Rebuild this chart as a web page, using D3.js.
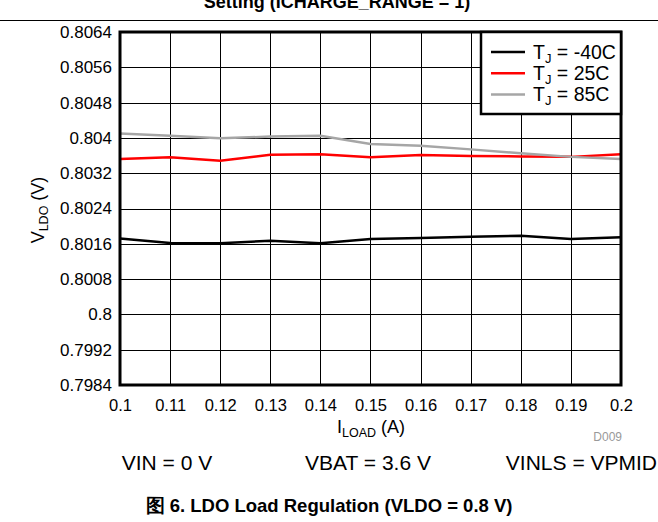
<!DOCTYPE html>
<html><head><meta charset="utf-8">
<script src="https://cdn.jsdelivr.net/npm/d3@7"></script>
<style>
body{margin:0;background:#fff;}
svg{display:block;font-family:"Liberation Sans",Arial,sans-serif;}
</style></head>
<body><svg id="c" width="658" height="522"></svg>
<script>
const xTicks = [0.1,0.11,0.12,0.13,0.14,0.15,0.16,0.17,0.18,0.19,0.2];
const yTicks = [0.7984,0.7992,0.8,0.8008,0.8016,0.8024,0.8032,0.804,0.8048,0.8056,0.8064];
const iload = [0.1,0.11,0.12,0.13,0.14,0.15,0.16,0.17,0.18,0.19,0.2];
const vM40 = [0.80172,0.80162,0.80161,0.80167,0.80161,0.80171,0.80173,0.80176,0.80178,0.80171,0.80175];
const v25  = [0.80352,0.80356,0.80348,0.80362,0.80363,0.80356,0.80361,0.80359,0.80358,0.80357,0.80363];
const v85  = [0.80410,0.80405,0.80399,0.80403,0.80405,0.80386,0.80382,0.80374,0.80365,0.80357,0.80352];
const seriesNames = ["-40C","25C","85C"];
const seriesColors = ["#000000","#ff0000","#a6a6a6"];
const series = [vM40, v25, v85];

const svg = d3.select("#c");
const L=120, R=621, T=32, B=385;
const x = d3.scaleLinear().domain([0.1,0.2]).range([L,R]);
const y = d3.scaleLinear().domain([0.7984,0.8064]).range([B,T]);

// title (clipped at top)
svg.append("text").attr("x",337).attr("y",8).attr("text-anchor","middle")
  .attr("font-weight","bold").attr("font-size",18).text("Setting (ICHARGE_RANGE = 1)");
svg.append("line").attr("x1",0).attr("x2",658).attr("y1",20.5).attr("y2",20.5)
  .attr("stroke","#000").attr("stroke-width",1.2);

// grid
svg.append("g").selectAll("line").data(xTicks).join("line")
  .attr("x1",d=>Math.round(x(d))+0.5).attr("x2",d=>Math.round(x(d))+0.5)
  .attr("y1",T).attr("y2",B).attr("stroke","#000").attr("stroke-width",1);
svg.append("g").selectAll("line").data(yTicks).join("line")
  .attr("y1",d=>Math.round(y(d))+0.5).attr("y2",d=>Math.round(y(d))+0.5)
  .attr("x1",L).attr("x2",R).attr("stroke","#000").attr("stroke-width",1);

// axes labels via d3 axes
const xAxis = d3.axisBottom(x).tickValues(xTicks).tickSize(0).tickPadding(14).tickFormat(d=>d3.format("")(+d.toFixed(2)));
const gx = svg.append("g").attr("transform",`translate(0,${B})`).call(xAxis);
gx.select(".domain").remove();
gx.selectAll("text").attr("font-size",16.5).attr("font-family","Liberation Sans, Arial, sans-serif").attr("fill","#000");

const yAxis = d3.axisLeft(y).tickValues(yTicks).tickSize(0).tickPadding(8).tickFormat(d=>d3.format("")(+d.toFixed(4)));
const gy = svg.append("g").attr("transform",`translate(${L},0)`).call(yAxis);
gy.select(".domain").remove();
gy.selectAll("text").attr("font-size",17).attr("font-family","Liberation Sans, Arial, sans-serif").attr("fill","#000");

// lines
const line = d3.line().x((d,i)=>x(iload[i])).y(d=>y(d));
series.forEach((s,k)=>{
  svg.append("path").datum(s).attr("d",line).attr("fill","none")
    .attr("stroke",seriesColors[k]).attr("stroke-width",2.5);
});

// frame
svg.append("rect").attr("x",L).attr("y",T).attr("width",R-L).attr("height",B-T)
  .attr("fill","none").attr("stroke","#000").attr("stroke-width",3);

// legend
const lg = svg.append("g");
lg.append("rect").attr("x",481).attr("y",T).attr("width",R-481).attr("height",82)
  .attr("fill","#fff").attr("stroke","#000").attr("stroke-width",2.5);
seriesNames.forEach((n,k)=>{
  const yy = 52 + k*21.3;
  lg.append("line").attr("x1",491).attr("x2",525).attr("y1",yy).attr("y2",yy)
    .attr("stroke",seriesColors[k]).attr("stroke-width",2.5);
  const t = lg.append("text").attr("x",533).attr("y",yy+6.5).attr("font-size",19.5);
  t.append("tspan").text("T");
  t.append("tspan").attr("font-size",13).attr("dy",4).text("J");
  t.append("tspan").attr("dy",-4).text(" = " + n);
});

// y label
const yl = svg.append("text").attr("transform","translate(44,210) rotate(-90)")
  .attr("text-anchor","middle").attr("font-size",18);
yl.append("tspan").text("V");
yl.append("tspan").attr("font-size",12.5).attr("dy",4).text("LDO");
yl.append("tspan").attr("dy",-4).text(" (V)");

// x label
const xl = svg.append("text").attr("x",371).attr("y",433).attr("text-anchor","middle").attr("font-size",18);
xl.append("tspan").text("I");
xl.append("tspan").attr("font-size",12.5).attr("dy",4).text("LOAD");
xl.append("tspan").attr("dy",-4).text(" (A)");

svg.append("text").attr("x",622).attr("y",441).attr("text-anchor","end")
  .attr("font-size",12).attr("fill","#999").text("D009");

svg.append("text").attr("x",167).attr("y",470).attr("text-anchor","middle").attr("font-size",21).text("VIN = 0 V");
svg.append("text").attr("x",368).attr("y",470).attr("text-anchor","middle").attr("font-size",21).text("VBAT = 3.6 V");
svg.append("text").attr("x",657).attr("y",470).attr("text-anchor","end").attr("font-size",21).text("VINLS = VPMID");

svg.append("text").attr("x",329).attr("y",512).attr("text-anchor","middle")
  .attr("font-weight","bold").attr("font-size",18.5).text("图 6. LDO Load Regulation (VLDO = 0.8 V)");
</script></body></html>
